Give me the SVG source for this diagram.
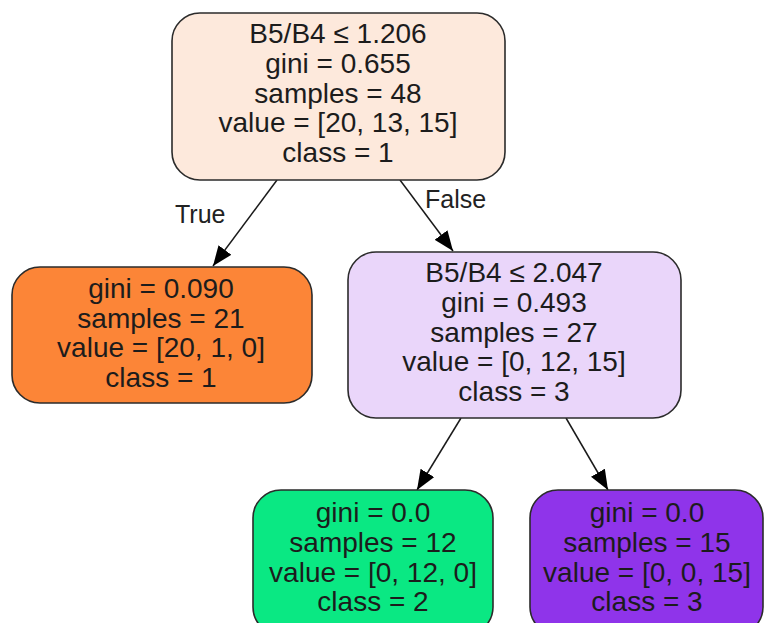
<svg xmlns="http://www.w3.org/2000/svg" width="766" height="623" viewBox="0 0 766 623">
<defs>
<style>
.n{stroke:#2b2b2b;stroke-width:1.6}
.t{font-family:"Liberation Sans",Arial,sans-serif;font-size:28px;fill:#1c1c1c;text-anchor:middle}
.e{stroke:#1a1a1a;stroke-width:1.5;fill:none}
.l{font-family:"Liberation Sans",Arial,sans-serif;font-size:25px;fill:#222}
</style>
<marker id="ah" markerWidth="20" markerHeight="16" refX="20" refY="8" orient="auto" markerUnits="userSpaceOnUse">
<path d="M0,0 L20,8 L0,16 Z" fill="#000"/>
</marker>
</defs>
<rect width="766" height="623" fill="#ffffff"/>
<g id="edges">
<line class="e" x1="277" y1="180" x2="213" y2="266" marker-end="url(#ah)"/>
<line class="e" x1="400" y1="180" x2="453" y2="251" marker-end="url(#ah)"/>
<line class="e" x1="461" y1="418" x2="417" y2="490" marker-end="url(#ah)"/>
<line class="e" x1="566" y1="418" x2="608" y2="490" marker-end="url(#ah)"/>
<text class="l" x="175" y="223">True</text>
<text class="l" x="425" y="208">False</text>
</g>
<g id="node0">
<rect class="n" x="172" y="13" width="333" height="167" rx="28" fill="#fde9dc"/>
<text class="t" x="338" y="43">B5/B4 ≤ 1.206</text>
<text class="t" x="338" y="73">gini = 0.655</text>
<text class="t" x="338" y="103">samples = 48</text>
<text class="t" x="338" y="132">value = [20, 13, 15]</text>
<text class="t" x="338" y="162">class = 1</text>
</g>
<g id="node1">
<rect class="n" x="12" y="267" width="300" height="136" rx="28" fill="#fc8537"/>
<text class="t" x="161" y="298">gini = 0.090</text>
<text class="t" x="161" y="328">samples = 21</text>
<text class="t" x="161" y="357">value = [20, 1, 0]</text>
<text class="t" x="161" y="387">class = 1</text>
</g>
<g id="node2">
<rect class="n" x="348" y="252" width="333" height="166" rx="28" fill="#ead6fa"/>
<text class="t" x="514" y="282">B5/B4 ≤ 2.047</text>
<text class="t" x="514" y="312">gini = 0.493</text>
<text class="t" x="514" y="342">samples = 27</text>
<text class="t" x="514" y="371">value = [0, 12, 15]</text>
<text class="t" x="514" y="401">class = 3</text>
</g>
<g id="node3">
<rect class="n" x="253" y="490" width="240" height="145" rx="28" fill="#0ae883"/>
<text class="t" x="373" y="522">gini = 0.0</text>
<text class="t" x="373" y="552">samples = 12</text>
<text class="t" x="373" y="582">value = [0, 12, 0]</text>
<text class="t" x="373" y="611">class = 2</text>
</g>
<g id="node4">
<rect class="n" x="530" y="490" width="233" height="145" rx="28" fill="#8f34ea"/>
<text class="t" x="647" y="522">gini = 0.0</text>
<text class="t" x="647" y="552">samples = 15</text>
<text class="t" x="647" y="582">value = [0, 0, 15]</text>
<text class="t" x="647" y="611">class = 3</text>
</g>
</svg>
